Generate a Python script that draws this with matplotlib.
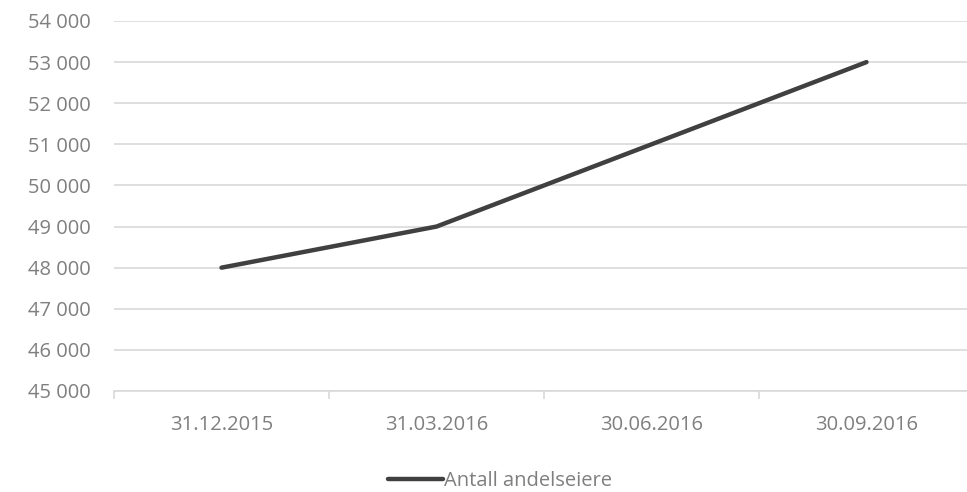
import matplotlib.pyplot as plt
from matplotlib.ticker import FuncFormatter, FixedLocator

# data
datoer = ["31.12.2015", "31.03.2016", "30.06.2016", "30.09.2016"]
andelseiere = [48000, 49000, 51000, 53000]

plt.rcParams['font.family'] = ['Open Sans', 'DejaVu Sans']
tekst = '#7f7f7f'
fs = 14.5

fig = plt.figure(figsize=(9.67, 4.92), dpi=100)
ax = fig.add_axes([114/967, 1-391/492, 1-114/967, (391-21)/492])

x = range(len(datoer))
ax.plot(x, andelseiere, color='#404040', lw=3.2, solid_capstyle='round',
        label='Antall andelseiere', zorder=3)

ax.set_ylim(45000, 54000)
ax.set_yticks(range(45000, 54001, 1000))
ax.yaxis.set_major_formatter(FuncFormatter(lambda v, p: f"{int(v):,}".replace(",", " ")))
ax.set_xlim(-0.5, 3.5 - 7/215)
ax.set_xticks(list(x))
ax.set_xticklabels(datoer)
ax.xaxis.set_minor_locator(FixedLocator([-0.5, 0.5, 1.5, 2.5]))

ax.grid(axis='y', color='#d9d9d9', lw=1.2)
ax.set_axisbelow(True)
for s in ['top', 'right', 'left']:
    ax.spines[s].set_visible(False)
ax.spines['bottom'].set_color('#d9d9d9')
ax.spines['bottom'].set_linewidth(1.2)

ax.tick_params(axis='y', length=0, pad=17, labelsize=fs, labelcolor=tekst)
ax.tick_params(axis='x', which='major', length=0, pad=17, labelsize=fs, labelcolor=tekst)
ax.tick_params(axis='x', which='minor', length=6, width=1.2, color='#d9d9d9')

leg = fig.legend(loc='center', bbox_to_anchor=(500/967, 1-481/492), frameon=False,
                 fontsize=fs, handlelength=2.7, handletextpad=0.05)
for t in leg.get_texts():
    t.set_color(tekst)

fig.savefig('out.png', dpi=100)
